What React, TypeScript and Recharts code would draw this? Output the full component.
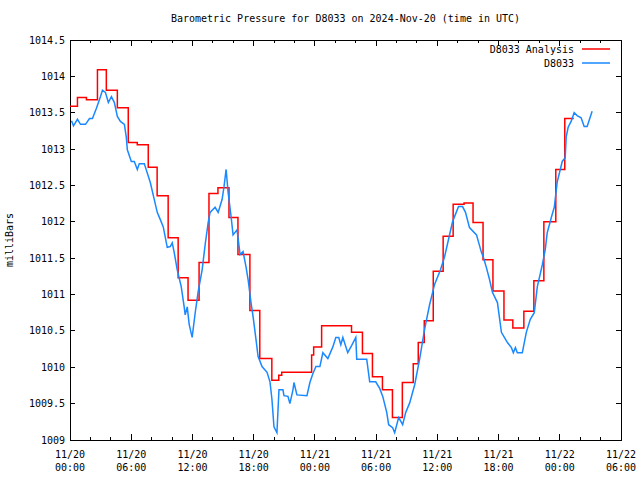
import React from 'react'
import { LineChart, Line, XAxis, YAxis, ReferenceArea, Legend } from 'recharts'

const FONT = "'DejaVu Sans Mono', monospace"
const TITLE = 'Barometric Pressure for D8033 on 2024-Nov-20 (time in UTC)'
const Y_TITLE = 'milliBars'

const RED = '#ff0000'
const BLUE = '#1a88ff'
const SERIES_NAMES = ['D8033 Analysis', 'D8033']
const SERIES_COLORS = [RED, BLUE]

const PLOT_W = 551
const PLOT_H = 400

// time axis in hours since 11/20 00:00 UTC
const X_TICKS = [0, 2, 4, 6, 8, 10, 12, 14, 16, 18, 20, 22, 24, 26, 28, 30, 32, 34, 36, 38, 40, 42, 44, 46, 48, 50, 52, 54]
const X_MAJOR = [0, 6, 12, 18, 24, 30, 36, 42, 48, 54]
const X_DATES = ['11/20', '11/20', '11/20', '11/20', '11/21', '11/21', '11/21', '11/21', '11/22', '11/22']
const X_TIMES = ['00:00', '06:00', '12:00', '18:00', '00:00', '06:00', '12:00', '18:00', '00:00', '06:00']

const Y_TICKS = [1009, 1009.5, 1010, 1010.5, 1011, 1011.5, 1012, 1012.5, 1013, 1013.5, 1014, 1014.5]
const Y_LABELS = ['1009', '1009.5', '1010', '1010.5', '1011', '1011.5', '1012', '1012.5', '1013', '1013.5', '1014', '1014.5']

// D8033 Analysis (stepped)
const ANALYSIS_T = [
  0, 0.73, 1.61, 2.69, 3.56, 4.64, 5.71, 6.59, 7.67, 8.54, 9.62, 10.6, 11.57, 12.65, 13.62, 14.5,
  15.58, 16.46, 17.63, 18.6, 19.78, 20.46, 20.75, 23.68, 23.88, 24.66, 27.59, 28.66, 29.64, 30.62,
  31.6, 32.57, 33.64, 34.13, 34.72, 35.6, 36.57, 37.55, 38.62, 39.5, 40.48, 41.45, 42.53, 43.4,
  44.48, 45.46, 46.44, 47.61, 48.49, 49.37,
]
const ANALYSIS_P = [
  1013.59, 1013.71, 1013.68, 1014.09, 1013.81, 1013.57, 1013.09, 1013.06, 1012.75, 1012.36, 1011.78,
  1011.23, 1010.92, 1011.44, 1012.39, 1012.47, 1012.06, 1011.55, 1010.78, 1010.12, 1009.82, 1009.89,
  1009.93, 1010.17, 1010.28, 1010.57, 1010.48, 1010.19, 1009.87, 1009.69, 1009.31, 1009.79, 1010.05,
  1010.34, 1010.64, 1011.32, 1011.8, 1012.24, 1012.26, 1011.99, 1011.48, 1011.05, 1010.65, 1010.54,
  1010.77, 1011.19, 1012.0, 1012.72, 1013.42, 1013.42,
]

// D8033 observations
const OBS_T = [
  0.15, 0.34, 0.73, 1.03, 1.52, 1.91, 2.2, 2.59, 2.98, 3.18, 3.47, 3.76, 4.06, 4.35, 4.64, 4.94,
  5.33, 5.52, 5.62, 6.01, 6.3, 6.6, 6.79, 7.28, 7.87, 8.55, 8.85, 9.14, 9.53, 9.82, 10.02, 10.21,
  10.51, 10.9, 11.19, 11.29, 11.49, 11.68, 11.97, 12.27, 12.56, 12.95, 13.25, 13.54, 13.73, 14.22,
  14.52, 14.91, 15.1, 15.3, 15.5, 15.79, 15.98, 16.37, 16.67, 16.96, 17.25, 17.45, 17.74, 17.94,
  18.23, 18.43, 18.82, 19.31, 19.6, 19.79, 19.99, 20.28, 20.48, 20.87, 20.97, 21.36, 21.55, 21.85,
  21.95, 22.24, 23.22, 23.51, 23.8, 24.1, 24.49, 24.78, 25.27, 25.76, 26.05, 26.34, 26.54, 26.74,
  27.22, 27.61, 28.01, 28.1, 29.08, 29.37, 29.96, 30.35, 30.65, 31.04, 31.23, 31.62, 31.82, 32.21,
  32.6, 32.9, 33.29, 33.78, 34.26, 34.75, 35.24, 35.73, 36.31, 36.71, 37.1, 37.49, 37.88, 38.08,
  38.47, 38.76, 39.15, 39.84, 40.32, 40.52, 40.81, 41.11, 41.4, 41.89, 42.28, 42.57, 42.87, 43.26,
  43.45, 43.65, 43.84, 44.33, 44.72, 45.11, 45.5, 45.8, 46.29, 46.58, 46.77, 47.17, 47.46, 47.75,
  48.05, 48.24, 48.53, 48.63, 48.82, 49.11, 49.41, 49.7, 50.09, 50.39, 50.68, 51.17,
]
const OBS_P = [
  1013.39, 1013.32, 1013.41, 1013.34, 1013.34, 1013.42, 1013.42, 1013.56, 1013.72, 1013.81, 1013.78,
  1013.64, 1013.72, 1013.64, 1013.45, 1013.38, 1013.34, 1013.16, 1012.99, 1012.83, 1012.83, 1012.72,
  1012.8, 1012.8, 1012.54, 1012.13, 1012.03, 1011.93, 1011.65, 1011.66, 1011.71, 1011.58, 1011.34,
  1011.11, 1010.83, 1010.72, 1010.83, 1010.59, 1010.41, 1010.75, 1011.04, 1011.34, 1011.69, 1011.99,
  1012.13, 1012.2, 1012.13, 1012.31, 1012.49, 1012.72, 1012.4, 1012.07, 1011.82, 1011.89, 1011.55,
  1011.59, 1011.38, 1011.21, 1010.89, 1010.7, 1010.38, 1010.15, 1010.01, 1009.93, 1009.8, 1009.56,
  1009.18, 1009.1, 1009.69, 1009.69, 1009.61, 1009.6, 1009.5, 1009.69, 1009.79, 1009.62, 1009.61,
  1009.79, 1009.91, 1010.01, 1010.01, 1010.2, 1010.12, 1010.28, 1010.41, 1010.41, 1010.31, 1010.41,
  1010.2, 1010.3, 1010.41, 1010.11, 1010.11, 1009.8, 1009.8, 1009.71, 1009.6, 1009.38, 1009.21,
  1009.17, 1009.1, 1009.31, 1009.21, 1009.38, 1009.51, 1009.76, 1010.11, 1010.52, 1010.86, 1011.14,
  1011.34, 1011.52, 1011.76, 1012.0, 1012.14, 1012.21, 1012.21, 1012.13, 1011.92, 1011.82, 1011.58,
  1011.51, 1011.37, 1011.21, 1011.03, 1010.89, 1010.48, 1010.41, 1010.34, 1010.27, 1010.2, 1010.27,
  1010.2, 1010.2, 1010.48, 1010.66, 1010.75, 1011.11, 1011.41, 1011.62, 1011.85, 1012.06, 1012.2,
  1012.55, 1012.72, 1012.83, 1012.88, 1013.17, 1013.3, 1013.38, 1013.5, 1013.46, 1013.43, 1013.31,
  1013.31, 1013.52,
]

const analysisData = ANALYSIS_T.map((t, i) => ({ t, p: ANALYSIS_P[i] }))
const obsData = OBS_T.map((t, i) => ({ t, p: OBS_P[i] }))

function XTick(props: any) {
  const { x, y, payload } = props
  const i = X_MAJOR.indexOf(payload.value)
  const len = i >= 0 ? 6 : 3
  return (
    <g>
      <line x1={x} x2={x} y1={y} y2={y - len} stroke="#000" shapeRendering="crispEdges" />
      <line x1={x} x2={x} y1={y - PLOT_H} y2={y - PLOT_H + len} stroke="#000" shapeRendering="crispEdges" />
      {i >= 0 && (
        <>
          <text x={x} y={y + 17.5} textAnchor="middle" fontSize={10} fontFamily={FONT} fill="#000">
            {X_DATES[i]}
          </text>
          <text x={x} y={y + 30.5} textAnchor="middle" fontSize={10} fontFamily={FONT} fill="#000">
            {X_TIMES[i]}
          </text>
        </>
      )}
    </g>
  )
}

function YTick(props: any) {
  const { x, y, payload } = props
  const i = Y_TICKS.indexOf(payload.value)
  return (
    <g>
      <line x1={x} x2={x + 5} y1={y} y2={y} stroke="#000" shapeRendering="crispEdges" />
      <line x1={x + PLOT_W} x2={x + PLOT_W - 5} y1={y} y2={y} stroke="#000" shapeRendering="crispEdges" />
      <text x={x - 5} y={y + 3.5} textAnchor="end" fontSize={10} fontFamily={FONT} fill="#000">
        {Y_LABELS[i]}
      </text>
    </g>
  )
}

function renderLegend() {
  return (
    <div style={{ fontFamily: FONT, fontSize: 10, color: '#000' }}>
      {SERIES_NAMES.map((name, i) => (
        <div
          key={name}
          style={{ display: 'flex', alignItems: 'center', justifyContent: 'flex-end', height: 14 }}
        >
          <span style={{ whiteSpace: 'nowrap' }}>{name}</span>
          <svg width={36} height={14} style={{ display: 'block' }}>
            <line x1={8} x2={36} y1={7} y2={7} stroke={SERIES_COLORS[i]} strokeWidth={1.5} />
          </svg>
        </div>
      ))}
    </div>
  )
}

export default function App() {
  return (
    <div style={{ position: 'absolute', left: 0, top: 0, width: 640, height: 480, background: '#fff' }}>
      <div
        style={{
          position: 'absolute', left: 70, top: 13, width: PLOT_W, textAlign: 'center',
          fontFamily: FONT, fontSize: 10, lineHeight: '12px', color: '#000', whiteSpace: 'nowrap',
        }}
      >
        {TITLE}
      </div>
      <div
        style={{
          position: 'absolute', left: 10, top: 240, transform: 'translate(-50%, -50%) rotate(-90deg)',
          fontFamily: FONT, fontSize: 10, lineHeight: '12px', color: '#000', whiteSpace: 'nowrap',
        }}
      >
        {Y_TITLE}
      </div>
      <LineChart width={640} height={480} margin={{ top: 40, right: 19, bottom: 0, left: 10 }}>
        <XAxis
          dataKey="t"
          type="number"
          domain={[0, 54]}
          ticks={X_TICKS}
          interval={0}
          allowDataOverflow
          axisLine={false}
          tickLine={false}
          tickSize={0}
          tickMargin={0}
          height={40}
          tick={<XTick />}
        />
        <YAxis
          type="number"
          domain={[1009, 1014.5]}
          ticks={Y_TICKS}
          interval={0}
          allowDataOverflow
          axisLine={false}
          tickLine={false}
          tickSize={0}
          tickMargin={0}
          width={60}
          tick={<YTick />}
        />
        <ReferenceArea
          x1={0}
          x2={54}
          y1={1009}
          y2={1014.5}
          fill="none"
          fillOpacity={0}
          stroke="#000"
          strokeWidth={1}
          shapeRendering="crispEdges"
        />
        <Legend
          layout="horizontal"
          verticalAlign="middle"
          align="center"
          content={renderLegend}
          wrapperStyle={{ left: 470, top: 42, width: 140, height: 28 }}
        />
        <Line
          data={analysisData}
          dataKey="p"
          name={SERIES_NAMES[0]}
          type="stepAfter"
          stroke={RED}
          strokeWidth={1.5}
          dot={false}
          isAnimationActive={false}
        />
        <Line
          data={obsData}
          dataKey="p"
          name={SERIES_NAMES[1]}
          type="linear"
          stroke={BLUE}
          strokeWidth={1.5}
          dot={false}
          isAnimationActive={false}
        />
      </LineChart>
    </div>
  )
}
